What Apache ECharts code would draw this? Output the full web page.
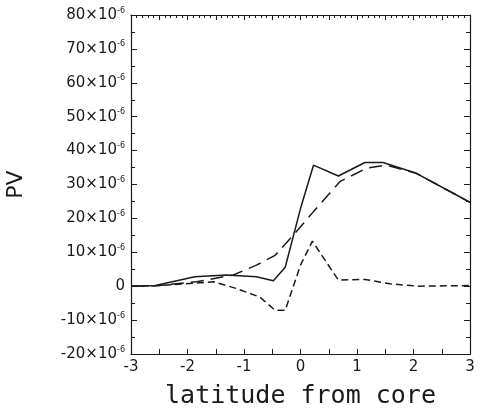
<!DOCTYPE html>
<html><head><meta charset="utf-8">
<script src="https://cdn.jsdelivr.net/npm/echarts@6/dist/echarts.min.js"></script>
<style>html,body{margin:0;padding:0;background:#fff}#c{width:483px;height:414px}</style>
</head><body><div id="c"></div>
<script>
const solidX = [-3, -2.57, -1.87, -1.31, -0.78, -0.48, -0.27, 0, 0.23, 0.67, 1.14, 1.46, 2.05, 2.76, 3];
const solidY = [0, 0.2, 2.8, 3.3, 2.8, 1.6, 5.6, 22.9, 35.7, 32.5, 36.5, 36.5, 33.3, 26.9, 24.7];
const longX = [-3, -2.5, -1.84, -1.19, -0.78, -0.45, -0.13, 0.23, 0.7, 1.17, 1.52, 2.05, 2.76, 3];
const longY = [0, 0.2, 1.3, 3.3, 6.2, 9.1, 15, 22, 30.9, 34.8, 35.7, 33.3, 26.9, 24.7];
const shortX = [-3, -2.5, -1.54, -1.13, -0.72, -0.45, -0.27, 0, 0.21, 0.67, 1.14, 1.58, 2.1, 3];
const shortY = [0, 0.2, 1.3, -0.7, -3.2, -7.1, -7.1, 6.2, 13.3, 1.8, 2.0, 0.7, 0, 0.2];
const xTicks = [-3, -2, -1, 0, 1, 2, 3];
const yTicks = [-20, -10, 0, 10, 20, 30, 40, 50, 60, 70, 80];

const zip = (xs, ys) => xs.map((x, i) => [x, ys[i]]);
const ink = '#1a1a1a';
const font = 'DejaVu Sans';
const chart = echarts.init(document.getElementById('c'), null, {renderer: 'canvas'});
const baseX = {
  type: 'value', min: -3, max: 3, interval: 0.5,
  axisLine: {show: true, onZero: false, lineStyle: {color: ink, width: 1.2}},
  axisTick: {show: true, inside: true, length: 5, lineStyle: {color: ink}},
  splitLine: {show: false}
};
const baseY = {
  type: 'value', min: -20, max: 80, interval: 10,
  axisLine: {show: true, onZero: false, lineStyle: {color: ink, width: 1.2}},
  axisTick: {show: true, inside: true, length: 6, lineStyle: {color: ink}},
  minorTick: {show: true, splitNumber: 2, length: 4, lineStyle: {color: ink}},
  splitLine: {show: false}
};
chart.setOption({
  animation: false,
  backgroundColor: '#fff',
  grid: {left: 131, right: 13, top: 15, bottom: 60, containLabel: false, outerBoundsMode: 'none'},
  xAxis: [
    Object.assign({}, baseX, {
      position: 'bottom',
      name: 'latitude from core', nameLocation: 'middle', nameGap: 30,
      nameTextStyle: {fontFamily: 'DejaVu Sans Mono', fontSize: 25, color: ink},
      axisLabel: {
        fontFamily: font, fontSize: 15, color: ink, margin: 6,
        formatter: v => xTicks.includes(v) ? String(v) : ''
      }
    }),
    Object.assign({}, baseX, {
      position: 'top',
      axisLabel: {show: false},
      minorTick: {show: true, splitNumber: 5, length: 3, lineStyle: {color: ink}}
    })
  ],
  yAxis: [
    Object.assign({}, baseY, {
      position: 'left',
      name: 'PV', nameLocation: 'middle', nameGap: 104, nameRotate: 90,
      nameTextStyle: {fontFamily: font, fontSize: 22, color: ink},
      axisLabel: {
        fontFamily: font, fontSize: 15, color: ink, margin: 6,
        formatter: v => yTicks.includes(v) ? (v === 0 ? '0' : v + '×10{sup|-6}') : '',
        rich: {sup: {fontFamily: font, fontSize: 8, color: ink, verticalAlign: 'top', padding: [0, 0, 9, 0]}}
      }
    }),
    Object.assign({}, baseY, {position: 'right', axisLabel: {show: false}})
  ],
  series: [
    {type: 'line', data: zip(solidX, solidY), showSymbol: false, lineStyle: {color: ink, width: 1.5}},
    {type: 'line', data: zip(longX, longY), showSymbol: false, lineStyle: {color: ink, width: 1.5, type: [13, 7]}},
    {type: 'line', data: zip(shortX, shortY), showSymbol: false, lineStyle: {color: ink, width: 1.5, type: [7, 4]}}
  ]
});
</script></body></html>
